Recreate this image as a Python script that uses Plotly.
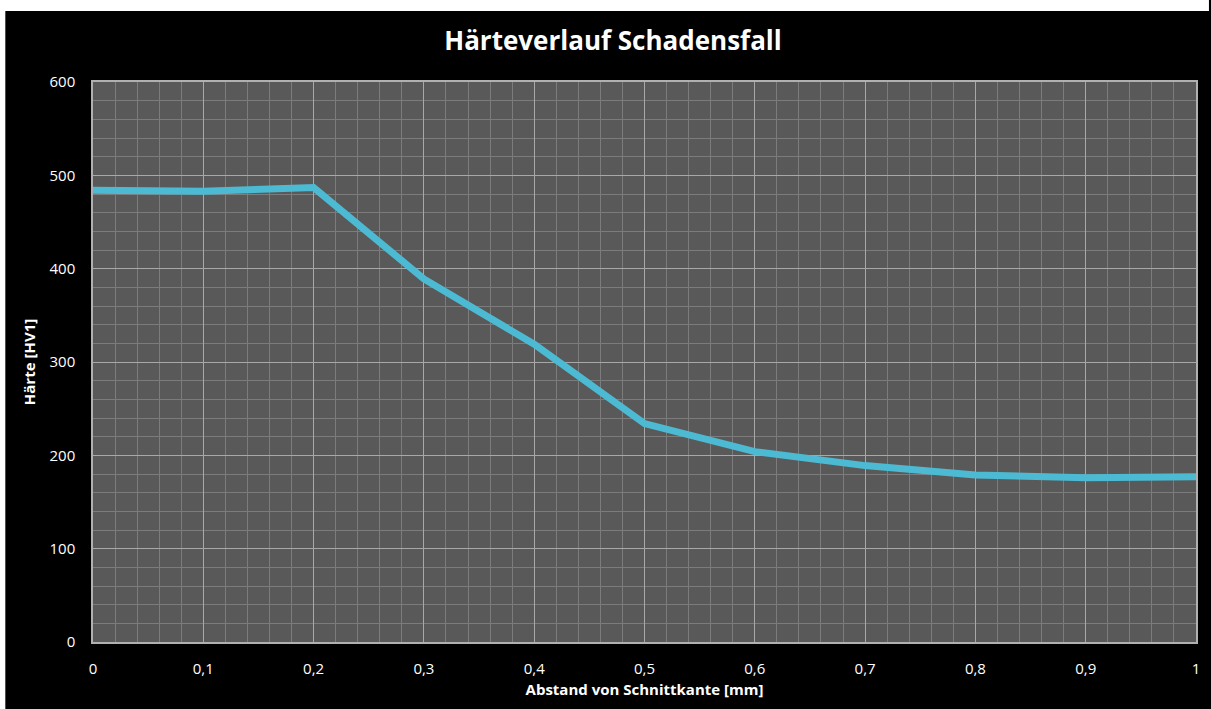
import plotly.graph_objects as go

# Data
abstand_mm = [0, 0.1, 0.2, 0.3, 0.4, 0.5, 0.6, 0.7, 0.8, 0.9, 1.0]
haerte_hv1 = [484, 483, 487, 389, 319, 234, 204, 189, 179, 176, 177]

x_ticks = [0, 0.1, 0.2, 0.3, 0.4, 0.5, 0.6, 0.7, 0.8, 0.9, 1]
x_ticklabels = ["0", "0,1", "0,2", "0,3", "0,4", "0,5", "0,6", "0,7", "0,8", "0,9", "1"]
y_ticks = [0, 100, 200, 300, 400, 500, 600]

title_text = "Härteverlauf Schadensfall"
x_title = "Abstand von Schnittkante [mm]"
y_title = "Härte [HV1]"

W, H = 1211, 709
L, R, T, B = 93, 11, 82, 67
pw, ph = W - L - R, H - T - B


def px_x(px):
    return (px - L) / pw


def px_y(py):
    return (H - B - py) / ph


fig = go.Figure()
fig.add_trace(go.Scatter(
    x=abstand_mm, y=haerte_hv1, mode="lines",
    line=dict(color="#4DBAD3", width=7),
    showlegend=False, hoverinfo="x+y",
))

font_family = "Open Sans, DejaVu Sans, sans-serif"

fig.update_layout(
    width=W, height=H,
    margin=dict(l=L, r=R, t=T, b=B),
    paper_bgcolor="black",
    plot_bgcolor="#595959",
    separators=",.",
    font=dict(family=font_family, color="white", size=15),
    title=dict(text="<b>" + title_text + "</b>", x=613 / W, xanchor="center",
               y=1 - 41 / H, yanchor="middle",
               font=dict(size=26, color="white", family=font_family)),
    shapes=[
        # white frame strips (left and top) visible in the reference screenshot
        dict(type="rect", xref="paper", yref="paper",
             x0=px_x(-2), x1=px_x(5), y0=px_y(H + 2), y1=px_y(-2),
             fillcolor="white", line=dict(width=0), layer="above"),
        dict(type="rect", xref="paper", yref="paper",
             x0=px_x(-2), x1=px_x(W + 2), y0=px_y(11), y1=px_y(-2),
             fillcolor="white", line=dict(width=0), layer="above"),
    ],
)

fig.update_xaxes(
    range=[0, 1], tickvals=x_ticks, ticktext=x_ticklabels,
    showgrid=True, gridcolor="#a8a8a8", gridwidth=1,
    minor=dict(dtick=0.02, tick0=0, showgrid=True, gridcolor="#7c7c7c", gridwidth=1),
    showline=True, linecolor="#b0b0b0", linewidth=1.5, mirror=True,
    ticks="", zeroline=False,
    tickfont=dict(size=15, color="white"),
    ticklabelstandoff=12,
    title=dict(text="<b>" + x_title + "</b>", font=dict(size=15, color="white"),
               standoff=8),
)
fig.update_yaxes(
    range=[0, 600], tickvals=y_ticks,
    showgrid=True, gridcolor="#a8a8a8", gridwidth=1,
    minor=dict(dtick=20, tick0=0, showgrid=True, gridcolor="#7c7c7c", gridwidth=1),
    showline=True, linecolor="#b0b0b0", linewidth=1.5, mirror=True,
    ticks="", zeroline=False,
    tickfont=dict(size=15, color="white"),
    ticklabelstandoff=13,
    title=dict(text="<b>" + y_title + "</b>", font=dict(size=15, color="white"),
               standoff=10),
)

fig.write_html(
    "out.html",
    config={"displayModeBar": False},
    post_script="document.body.style.margin='0';document.body.style.overflow='hidden';",
)
